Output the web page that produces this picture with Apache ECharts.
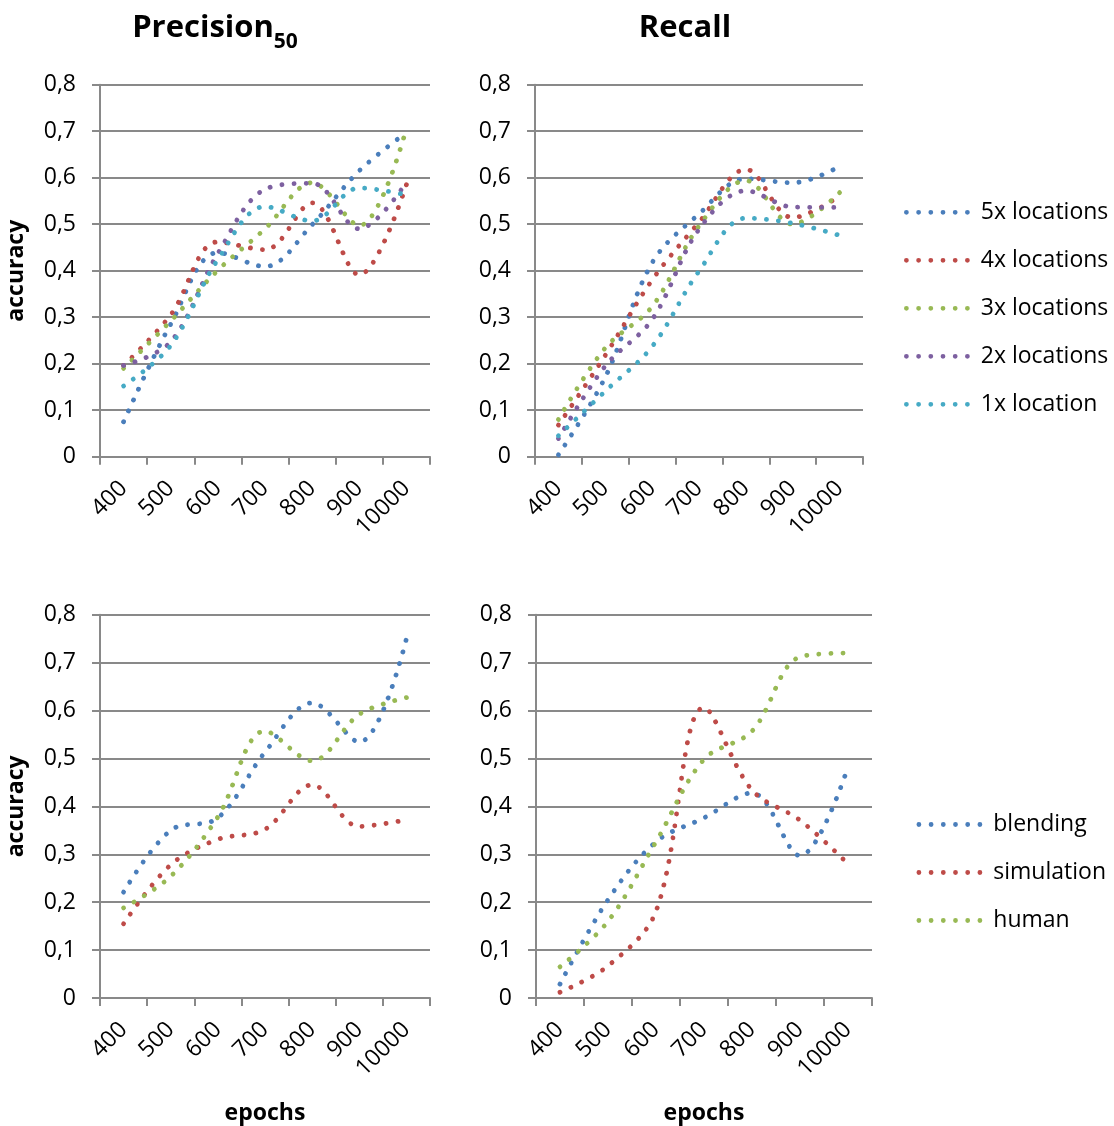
<!DOCTYPE html>
<html>
<head>
<meta charset="utf-8">
<script src="https://cdn.jsdelivr.net/npm/echarts@6/dist/echarts.min.js"></script>
<style>
  html, body { margin: 0; padding: 0; background: #ffffff; }
  #chart { width: 1114px; height: 1126px; }
</style>
</head>
<body>
<div id="chart"></div>
<script>
// Training epochs on the x axis
const categories = ['400', '500', '600', '700', '800', '900', '10000'];
// Accuracy tick labels (decimal comma)
const yTickLabels = ['0', '0,1', '0,2', '0,3', '0,4', '0,5', '0,6', '0,7', '0,8'];

// Precision50 by number of locations
const prec5x = [0.075, 0.285, 0.439, 0.409, 0.499, 0.615, 0.697];
const prec4x = [0.196, 0.305, 0.462, 0.445, 0.546, 0.391, 0.585];
const prec3x = [0.190, 0.292, 0.401, 0.490, 0.589, 0.497, 0.706];
const prec2x = [0.196, 0.247, 0.437, 0.575, 0.588, 0.490, 0.590];
const prec1x = [0.152, 0.239, 0.424, 0.538, 0.507, 0.578, 0.563];

// Recall by number of locations
const rec5x = [0.004, 0.171, 0.417, 0.522, 0.598, 0.589, 0.624];
const rec4x = [0.068, 0.218, 0.380, 0.504, 0.618, 0.514, 0.560];
const rec3x = [0.080, 0.234, 0.323, 0.496, 0.594, 0.500, 0.568];
const rec2x = [0.039, 0.195, 0.295, 0.489, 0.572, 0.537, 0.536];
const rec1x = [0.045, 0.141, 0.237, 0.399, 0.513, 0.502, 0.476];

// Precision50 by training data source
const precBlending = [0.221, 0.350, 0.376, 0.513, 0.616, 0.534, 0.750];
const precSimulation = [0.155, 0.278, 0.331, 0.352, 0.445, 0.358, 0.372];
const precHuman = [0.188, 0.254, 0.378, 0.557, 0.495, 0.592, 0.627];

// Recall by training data source
const recBlending = [0.029, 0.205, 0.326, 0.376, 0.428, 0.297, 0.482];
const recSimulation = [0.012, 0.067, 0.181, 0.606, 0.434, 0.371, 0.280];
const recHuman = [0.065, 0.160, 0.326, 0.498, 0.557, 0.712, 0.720];

const locationNames = ['5x locations', '4x locations', '3x locations', '2x locations', '1x location'];
const sourceNames = ['blending', 'simulation', 'human'];

const COLORS = {
  blue: '#4A7EBB', red: '#BE4B48', green: '#98B954', purple: '#7D60A0', cyan: '#46AAC5'
};
const FONT = 'Open Sans';
const GRAY = '#898989';

// Six round dots, used as the legend swatch
const DOT_R = 2.4;
const dotsIcon = 'path://' + [0, 1, 2, 3, 4, 5].map(function (i) {
  const cx = DOT_R + i * 12.2;
  return 'M' + (cx - DOT_R) + ' ' + DOT_R + 'a' + DOT_R + ' ' + DOT_R + ' 0 1 0 ' + (2 * DOT_R) + ' 0' +
         'a' + DOT_R + ' ' + DOT_R + ' 0 1 0 ' + (-2 * DOT_R) + ' 0z';
}).join('');

function dottedLine(name, data, color, idx) {
  return {
    type: 'line',
    name: name,
    data: data,
    xAxisIndex: idx,
    yAxisIndex: idx,
    smooth: 0.35,
    symbol: 'none',
    showSymbol: false,
    lineStyle: { color: color, width: 4.8, type: [0.1, 11.9], cap: 'round' },
    itemStyle: { color: color },
    emphasis: { disabled: true },
    animation: false
  };
}

const grids = [
  { left: 100, top: 84.7, width: 330, height: 372 },
  { left: 535, top: 84.7, width: 328, height: 372 },
  { left: 100, top: 614.7, width: 330, height: 384.3 },
  { left: 536, top: 614.7, width: 336, height: 384.3 }
];

const xAxes = grids.map(function (g, i) {
  return {
    type: 'category',
    gridIndex: i,
    data: categories,
    boundaryGap: true,
    axisLine: { show: true, lineStyle: { color: GRAY, width: 2 } },
    axisTick: { show: true, interval: 0, length: 8, lineStyle: { color: GRAY, width: 2 } },
    axisLabel: { interval: 0, rotate: 45, margin: 28, fontSize: 23, fontFamily: FONT, color: '#000' },
    splitLine: { show: false },
    name: i >= 2 ? 'epochs' : '',
    nameLocation: 'middle',
    nameGap: 104,
    nameTextStyle: { fontFamily: FONT, fontWeight: 'bold', fontSize: 23, color: '#000' }
  };
});

const yAxes = grids.map(function (g, i) {
  return {
    type: 'value',
    gridIndex: i,
    min: 0,
    max: 0.8,
    interval: 0.1,
    axisLine: { show: true, lineStyle: { color: GRAY, width: 2 } },
    axisTick: { show: true, length: 8, lineStyle: { color: GRAY, width: 2 } },
    splitLine: { show: true, lineStyle: { color: GRAY, width: 2 } },
    axisLabel: {
      margin: 24, fontSize: 23, fontFamily: FONT, color: '#000',
      formatter: function (v) { return yTickLabels[Math.round(v * 10)]; }
    },
    name: i % 2 === 0 ? 'accuracy' : '',
    nameLocation: 'middle',
    nameRotate: 90,
    nameGap: 72,
    nameTextStyle: { fontFamily: FONT, fontWeight: 'bold', fontSize: 23, color: '#000' }
  };
});

const locationColors = [COLORS.blue, COLORS.red, COLORS.green, COLORS.purple, COLORS.cyan];
const sourceColors = [COLORS.blue, COLORS.red, COLORS.green];
const precLocations = [prec5x, prec4x, prec3x, prec2x, prec1x];
const recLocations = [rec5x, rec4x, rec3x, rec2x, rec1x];
const precSources = [precBlending, precSimulation, precHuman];
const recSources = [recBlending, recSimulation, recHuman];

const series = [];
locationNames.forEach(function (n, k) { series.push(dottedLine(n, precLocations[k], locationColors[k], 0)); });
locationNames.forEach(function (n, k) { series.push(dottedLine(n, recLocations[k], locationColors[k], 1)); });
sourceNames.forEach(function (n, k) { series.push(dottedLine(n, precSources[k], sourceColors[k], 2)); });
sourceNames.forEach(function (n, k) { series.push(dottedLine(n, recSources[k], sourceColors[k], 3)); });

function legendAt(names, left, top) {
  return {
    data: names,
    orient: 'vertical',
    left: left,
    top: top,
    padding: 0,
    icon: dotsIcon,
    itemWidth: 65.8,
    itemHeight: 4.8,
    itemGap: 24,
    selectedMode: false,
    itemStyle: { borderWidth: 0 },
    textStyle: { fontFamily: FONT, fontSize: 23, color: '#000', lineHeight: 24, padding: [0, 0, 0, 6] }
  };
}

const chart = echarts.init(document.getElementById('chart'), null, { renderer: 'canvas' });
chart.setOption({
  backgroundColor: '#ffffff',
  animation: false,
  title: [
    {
      text: '{m|Precision}{s|50}',
      left: 210, top: 8, textAlign: 'center',
      textStyle: {
        rich: {
          m: { fontFamily: FONT, fontSize: 31, fontWeight: 'bold', color: '#000', padding: [0, 0, 9, 0] },
          s: { fontFamily: FONT, fontSize: 21, fontWeight: 'bold', color: '#000', verticalAlign: 'bottom' }
        }
      }
    },
    {
      text: 'Recall',
      left: 680, top: 8, textAlign: 'center',
      textStyle: { fontFamily: FONT, fontSize: 31, fontWeight: 'bold', color: '#000' }
    }
  ],
  legend: [
    legendAt(locationNames, 904, 200.3),
    legendAt(sourceNames, 916.5, 812.5)
  ],
  grid: grids,
  xAxis: xAxes,
  yAxis: yAxes,
  series: series
});
</script>
</body>
</html>
